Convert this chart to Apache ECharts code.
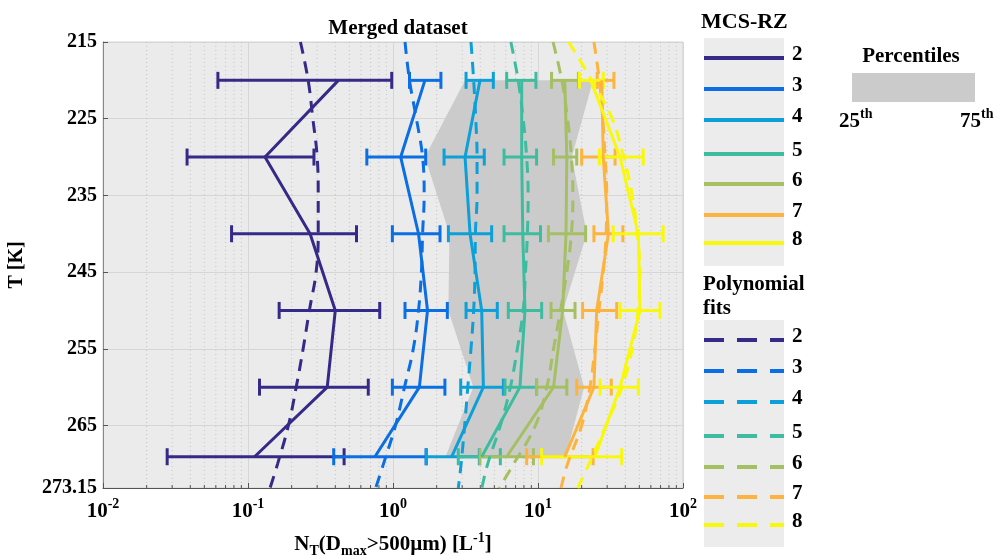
<!DOCTYPE html>
<html><head><meta charset="utf-8">
<script src="https://cdn.jsdelivr.net/npm/echarts@6/dist/echarts.min.js"></script>
<style>html,body{margin:0;padding:0;background:#fff}#c{width:998px;height:556px}</style>
</head><body><div id="c"></div>
<script>
// ---------- data ----------
const temps = [220, 230, 240, 250, 260, 269.075];
const yTicks = [215, 225, 235, 245, 255, 265, 273.15];
const minorTicks = [0.02,0.03,0.04,0.05,0.06,0.07,0.08,0.09,
                    0.2,0.3,0.4,0.5,0.6,0.7,0.8,0.9,
                    2,3,4,5,6,7,8,9,
                    20,30,40,50,60,70,80,90];
const classes = ['2','3','4','5','6','7','8'];

const mean2 = [0.42, 0.131, 0.268, 0.40, 0.352, 0.111];
const lo2   = [0.062, 0.038, 0.077, 0.164, 0.12, 0.0277];
const hi2   = [0.98, 0.285, 0.56, 0.81, 0.675, 0.46];

const mean3 = [1.66, 1.13, 1.50, 1.73, 1.52, 0.75];
const lo3   = [1.30, 0.66, 0.99, 1.21, 0.99, 0.39];
const hi3   = [2.14, 1.68, 2.11, 2.37, 2.28, 1.69];

const mean4 = [3.98, 3.14, 3.40, 4.09, 4.20, 2.54];
const lo4   = [3.19, 2.25, 2.41, 3.19, 2.93, 1.70];
const hi4   = [4.92, 4.26, 4.79, 5.24, 5.77, 3.94];

const mean5 = [7.72, 7.72, 7.85, 8.13, 7.51, 4.09];
const lo5   = [6.08, 5.83, 5.83, 6.24, 5.92, 2.82];
const hi5   = [9.68, 9.78, 10.4, 10.6, 9.78, 5.5];

const mean6 = [15.3, 15.8, 15.6, 14.8, 12.8, 6.08];
const lo6   = [12.4, 12.8, 11.8, 12.3, 9.78, 3.98];
const hi6   = [19.0, 18.5, 21.3, 18.0, 15.8, 9.3];

const mean7 = [27.5, 28.2, 30.6, 25.4, 24.3, 15.3];
const lo7   = [25.6, 20.0, 24.3, 20.3, 18.5, 8.36];
const hi7   = [33.4, 34.0, 38.5, 34.9, 32.0, 24.0];

const mean8 = [23.1, 36.8, 49.2, 50.5, 36.8, 24.7];
const lo8   = [19.3, 26.5, 33.0, 36.8, 26.8, 10.6];
const hi8   = [28.2, 53.2, 73.0, 69.4, 49.2, 37.8];

const p25 = [3.14, 1.66, 2.45, 2.41, 3.58, 2.30];
const p75 = [24.0, 17.1, 21.7, 14.9, 20.8, 15.5];

const fitT = [215, 220, 225, 230, 235, 240, 245, 250, 255, 260, 265, 270, 273.15];
const fit2 = [0.23, 0.26, 0.28, 0.30, 0.305, 0.305, 0.295, 0.265, 0.24, 0.215, 0.19, 0.16, 0.142];
const fit3 = [1.21, 1.30, 1.45, 1.60, 1.64, 1.60, 1.57, 1.50, 1.38, 1.20, 1.04, 0.86, 0.76];
const fit4 = [3.45, 3.60, 3.72, 3.80, 3.80, 3.70, 3.68, 3.60, 3.45, 3.28, 3.12, 2.95, 2.82];
const fit5 = [6.5, 7.3, 7.9, 8.35, 8.55, 8.45, 8.2, 7.9, 7.2, 6.45, 5.5, 4.5, 4.1];
const fit6 = [12.7, 14.6, 16.0, 17.0, 17.4, 17.0, 15.8, 14.3, 12.8, 11.5, 9.6, 6.8, 5.4];
const fit7 = [24.3, 26.5, 28.0, 29.0, 29.8, 29.5, 28.2, 26.3, 24.7, 22.8, 20.0, 16.0, 14.4];
const fit8 = [16.3, 23.5, 32.5, 39.0, 44.7, 48.3, 50.5, 49.0, 44.7, 38.0, 29.4, 22.5, 18.8];

// ---------- styling ----------
const colors = ['#352a87', '#0b6ee2', '#0d9fd8', '#3dbca0', '#a5bf63', '#fcb43f', '#f8f80c'];
const means = [mean2, mean3, mean4, mean5, mean6, mean7, mean8];
const los = [lo2, lo3, lo4, lo5, lo6, lo7, lo8];
const his = [hi2, hi3, hi4, hi5, hi6, hi7, hi8];
const fits = [fit2, fit3, fit4, fit5, fit6, fit7, fit8];
const FONT = 'Liberation Serif';

const chart = echarts.init(document.getElementById('c'), null, {renderer: 'canvas'});

const series = [];

// minor log grid lines and ticks
series.push({
  type: 'custom', silent: true, z: 1,
  data: minorTicks.map(v => [v, 215]),
  encode: {x: 0, y: 1},
  renderItem: function (params, api) {
    const x = api.coord([api.value(0), 215])[0];
    const cs = params.coordSys;
    return {type: 'group', children: [
      {type: 'line', shape: {x1: x, y1: cs.y, x2: x, y2: cs.y + cs.height},
       style: {stroke: '#c4c4c4', lineWidth: 1, lineDash: [1, 3]}},
      {type: 'line', shape: {x1: x, y1: cs.y + cs.height, x2: x, y2: cs.y + cs.height - 3},
       style: {stroke: '#555', lineWidth: 1}}
    ]};
  }
});

// percentile band
series.push({
  type: 'custom', silent: true, z: 2,
  data: temps.map((t, i) => [p25[i], p75[i], t]),
  encode: {x: [0, 1], y: 2},
  renderItem: function (params, api) {
    if (params.dataIndex !== 0) return null;
    const pts = [];
    for (let i = 0; i < temps.length; i++) pts.push(api.coord([p25[i], temps[i]]));
    for (let i = temps.length - 1; i >= 0; i--) pts.push(api.coord([p75[i], temps[i]]));
    return {type: 'polygon', shape: {points: pts}, style: {fill: '#cbcbcb'}};
  }
});

classes.forEach((c, k) => {
  const col = colors[k];
  const lo = los[k], hi = his[k], mn = means[k];
  series.push({
    name: 'MCS-RZ ' + c, type: 'custom', z: 3,
    data: temps.map((t, i) => [lo[i], hi[i], t]),
    encode: {x: [0, 1], y: 2},
    renderItem: function (params, api) {
      const t = api.value(2);
      const a = api.coord([api.value(0), t]);
      const b = api.coord([api.value(1), t]);
      const h = 8.5;
      const st = {stroke: col, lineWidth: 3};
      return {type: 'group', children: [
        {type: 'line', shape: {x1: a[0], y1: a[1], x2: b[0], y2: b[1]}, style: st},
        {type: 'line', shape: {x1: a[0], y1: a[1] - h, x2: a[0], y2: a[1] + h}, style: st},
        {type: 'line', shape: {x1: b[0], y1: b[1] - h, x2: b[0], y2: b[1] + h}, style: st}
      ]};
    }
  });
  series.push({
    name: 'MCS-RZ mean ' + c, type: 'line', z: 3,
    data: temps.map((t, i) => [mn[i], t]),
    symbol: 'none', showSymbol: false,
    lineStyle: {color: col, width: 3}, itemStyle: {color: col}
  });
  series.push({
    name: 'Fit ' + c, type: 'line', z: 3, smooth: 0.4,
    data: fitT.map((t, i) => [fits[k][i], t]),
    symbol: 'none', showSymbol: false,
    lineStyle: {color: col, width: 3, type: [12, 8]}, itemStyle: {color: col}
  });
});

// ---------- legends (graphic) ----------
const leg1Y = [58, 89, 120, 154, 184, 215, 243];
const leg2Y = [340, 371, 402, 436, 467, 497, 525];
const txt = (text, x, y, size, align) => ({
  type: 'text', x: x, y: y, silent: true,
  style: {text: text, fontFamily: FONT, fontWeight: 'bold', fontSize: size, fill: '#000',
          textAlign: align || 'left', textVerticalAlign: 'middle'}
});
const graphics = [];
graphics.push(txt('MCS-RZ', 701, 22, 22));
graphics.push({type: 'rect', shape: {x: 704, y: 38, width: 80, height: 228}, style: {fill: '#ececec'}, silent: true});
classes.forEach((c, k) => {
  graphics.push({type: 'line', shape: {x1: 704, y1: leg1Y[k], x2: 784, y2: leg1Y[k]},
                 style: {stroke: colors[k], lineWidth: 4}, silent: true});
  graphics.push(txt(c, 792, leg1Y[k] - 3, 21));
});
graphics.push(txt('Percentiles', 911, 57, 21, 'center'));
graphics.push({type: 'rect', shape: {x: 852, y: 73, width: 123, height: 29}, style: {fill: '#cbcbcb'}, silent: true});
const supRich = {n: {fontFamily: FONT, fontWeight: 'bold', fontSize: 21, fill: '#000'},
                 s: {fontFamily: FONT, fontWeight: 'bold', fontSize: 14, fill: '#000', padding: [0, 0, 16, 0]}};
graphics.push({type: 'text', x: 839, y: 122, silent: true,
  style: {text: '{n|25}{s|th}', textVerticalAlign: 'middle', rich: supRich}});
graphics.push({type: 'text', x: 960, y: 122, silent: true,
  style: {text: '{n|75}{s|th}', textVerticalAlign: 'middle', rich: supRich}});
graphics.push(txt('Polynomial', 703, 285, 21));
graphics.push(txt('fits', 703, 309, 21));
graphics.push({type: 'rect', shape: {x: 704, y: 320, width: 80, height: 227}, style: {fill: '#ececec'}, silent: true});
classes.forEach((c, k) => {
  graphics.push({type: 'line', shape: {x1: 704, y1: leg2Y[k], x2: 784, y2: leg2Y[k]},
                 style: {stroke: colors[k], lineWidth: 4, lineDash: [20, 13]}, silent: true});
  graphics.push(txt(c, 792, leg2Y[k] - 3, 21));
});

const option = {
  animation: false,
  backgroundColor: '#ffffff',
  title: {
    text: 'Merged dataset', left: 393, top: 13, textAlign: 'center',
    textStyle: {fontFamily: FONT, fontWeight: 'bold', fontSize: 21, color: '#000'}
  },
  grid: {left: 103, top: 42, width: 580, height: 446, show: true,
         outerBoundsMode: 'none', containLabel: false,
         backgroundColor: '#ebebeb', borderColor: '#d3d3d3', borderWidth: 1},
  xAxis: {
    type: 'log', logBase: 10, min: 0.01, max: 100,
    axisLine: {show: true, lineStyle: {color: '#555', width: 1}},
    axisTick: {show: true, inside: true, length: 5, lineStyle: {color: '#555'}},
    splitLine: {show: true, lineStyle: {color: '#d6d6d6', width: 1}},
    axisLabel: {
      margin: 9,
      formatter: function (v) {
        const e = Math.round(Math.log10(v));
        return '{b|10}{s|' + e + '}';
      },
      rich: {
        b: {fontFamily: FONT, fontWeight: 'bold', fontSize: 21, color: '#000'},
        s: {fontFamily: FONT, fontWeight: 'bold', fontSize: 14, color: '#000', padding: [0, 0, 16, 0]}
      }
    },
    name: '{m|N}{sub|T}{m|(D}{sub|max}{m|>500µm) [L}{sup|-1}{m|]}',
    nameLocation: 'middle', nameGap: 43,
    nameTextStyle: {
      rich: {
        m: {fontFamily: FONT, fontWeight: 'bold', fontSize: 21, color: '#000'},
        sub: {fontFamily: FONT, fontWeight: 'bold', fontSize: 14, color: '#000', padding: [12, 0, 0, 0]},
        sup: {fontFamily: FONT, fontWeight: 'bold', fontSize: 14, color: '#000', padding: [0, 0, 14, 0]}
      }
    }
  },
  yAxis: {
    type: 'value', min: 215, max: 273.15, inverse: true,
    axisLine: {show: true, lineStyle: {color: '#888', width: 1}},
    axisTick: {show: true, inside: true, length: 5, customValues: yTicks, lineStyle: {color: '#555'}},
    splitLine: {show: true, lineStyle: {color: '#d6d6d6', width: 1}},
    axisLabel: {
      customValues: yTicks, margin: 6,
      formatter: function (v) { return String(v); },
      fontFamily: FONT, fontWeight: 'bold', fontSize: 20, color: '#000'
    },
    name: 'T [K]', nameLocation: 'middle', nameGap: 76, nameRotate: 90,
    nameTextStyle: {fontFamily: FONT, fontWeight: 'bold', fontSize: 20, color: '#000'}
  },
  graphic: graphics,
  series: series
};
chart.setOption(option);
</script>
</body></html>
